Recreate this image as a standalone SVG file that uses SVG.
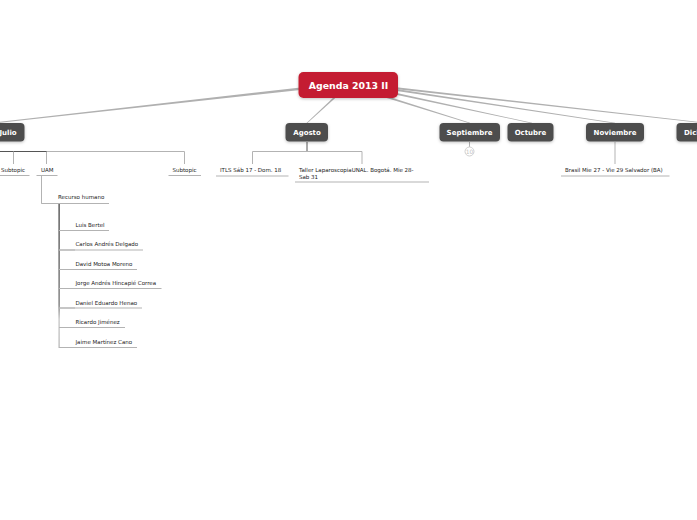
<svg xmlns="http://www.w3.org/2000/svg" width="697" height="520" viewBox="0 0 697 520">
<defs>
<filter id="sh" x="-20%" y="-30%" width="140%" height="170%"><feDropShadow dx="0" dy="1" stdDeviation="1.500" flood-color="#000" flood-opacity="0.250"/></filter>
<linearGradient id="trunk" x1="0" y1="0" x2="0" y2="1"><stop offset="0" stop-color="#333"/><stop offset="0.7" stop-color="#666"/><stop offset="0.8" stop-color="#c0c0c0"/><stop offset="1" stop-color="#b3b3b3"/></linearGradient>
</defs>
<style>
text{font-family:"DejaVu Sans","Liberation Sans",sans-serif}
.m{font-size:9.400px;font-weight:700;fill:#fff;text-anchor:middle}
.c{font-size:7px;font-weight:700;fill:#fff;text-anchor:middle}
.s{font-size:5.500px;fill:#222}
.box{fill:#4d4d4d;filter:url(#sh)}
.l{fill:none;stroke:#b3b3b3;stroke-width:1}
.u{fill:none;stroke:#b3b3b3;stroke-width:1}
.d{fill:none;stroke:#555;stroke-width:1}
.b{fill:#b0b0b0;stroke:none}
</style>
<rect width="697" height="520" fill="#fff"/>
<g id="connectors">
<polygon class="b" points="305,87 0,121.800 0,122.800 305,89.500"/>
<polygon class="b" points="335,96 337.500,96 307.500,123 306.500,123"/>
<polygon class="b" points="385,95.500 385,97.500 470,123.400 470,122.800"/>
<polygon class="b" points="390,91.500 390,93.500 532,123.400 532,122.800"/>
<polygon class="b" points="390,88 390,90 615,123.400 615,122.800"/>
<polygon class="b" points="390,86.500 390,88.500 697,122.500 697,121.800"/>
<path class="d" d="M0 151.500H47"/>
<path class="l" d="M47 151.500H184.500V164M13.500 151.500V164M46.500 151.500V164"/>
<path class="l" d="M41.500 176V203.500H58"/>
<rect x="58.500" y="204" width="1.200" height="144" fill="url(#trunk)"/>
<path class="l" d="M59 230.500H75M59 250H75M59 269.500H75M59 288.500H75M59 308H75M59 327.500H75M59 347.500H75"/>
<path class="d" stroke-width="1.200" d="M307 142V151.500"/>
<path class="l" d="M252.500 164V151.500H362V164"/>
<path class="l" d="M469.500 142V147"/>
<path class="l" d="M615 142V164"/>
</g>
<g id="root"><rect x="298.500" y="72" width="99.500" height="26" rx="5" fill="#c41e30" filter="url(#sh)"/><text class="m" x="348.500" y="89">Agenda 2013 II</text></g>
<g id="julio"><rect x="-20" y="123" width="44.500" height="18.500" rx="4" class="box"/><text class="c" x="8" y="135">Julio</text></g>
<g id="agosto"><rect x="285.500" y="123" width="42.500" height="18.500" rx="4" class="box"/><text class="c" x="307" y="135">Agosto</text></g>
<g id="septiembre"><rect x="439.500" y="123" width="60.500" height="18.500" rx="4" class="box"/><text class="c" x="469.500" y="135">Septiembre</text><circle cx="469.500" cy="151.500" r="4.500" fill="#fff" stroke="#d0d0d0"/><text x="469.500" y="154" style="font-size:6px;fill:#c4c4c4;text-anchor:middle">10</text></g>
<g id="octubre"><rect x="507.500" y="123" width="46" height="18.500" rx="4" class="box"/><text class="c" x="530.500" y="135">Octubre</text></g>
<g id="noviembre"><rect x="586" y="123" width="58" height="18.500" rx="4" class="box"/><text class="c" x="615" y="135">Noviembre</text></g>
<g id="diciembre"><rect x="676.500" y="123" width="50" height="18.500" rx="4" class="box"/><text class="c" style="text-anchor:start" x="684" y="135">Diciembre</text></g>
<g id="subtopic1"><text class="s" x="1" y="172">Subtopic</text><path class="u" d="M0 175.500H29.500"/></g>
<g id="uam"><text class="s" x="41" y="172">UAM</text><path class="u" d="M36.500 175.500H57.500"/></g>
<g id="subtopic2"><text class="s" x="172.500" y="172">Subtopic</text><path class="u" d="M168.500 175.500H201"/></g>
<g id="recurso"><text class="s" x="58" y="199">Recurso humano</text><path class="u" d="M41.500 203.500H109"/></g>
<g id="p1"><text class="s" x="75.500" y="227">Luis Bertel</text><path class="u" d="M59 230.500H109"/></g>
<g id="p2"><text class="s" x="75.500" y="246">Carlos Andrés Delgado</text><path class="u" d="M59 250H143"/></g>
<g id="p3"><text class="s" x="75.500" y="266">David Motoa Moreno</text><path class="u" d="M59 269.500H137"/></g>
<g id="p4"><text class="s" x="75.500" y="285">Jorge Andrés Hincapié Correa</text><path class="u" d="M59 288.500H161.500"/></g>
<g id="p5"><text class="s" x="75.500" y="305">Daniel Eduardo Henao</text><path class="u" d="M59 308H142"/></g>
<g id="p6"><text class="s" x="75.500" y="324">Ricardo Jiménez</text><path class="u" d="M59 327.500H125"/></g>
<g id="p7"><text class="s" x="75.500" y="344">Jaime Martínez Cano</text><path class="u" d="M59 347.500H137"/></g>
<g id="itls"><text class="s" x="220" y="172">ITLS Sáb 17 - Dom. 18</text><path class="u" d="M216 176H288.500"/></g>
<g id="taller"><text class="s" x="299" y="172">Taller LaparoscopiaUNAL. Bogotá. Mie 28-</text><text class="s" x="299" y="179">Sab 31</text><path class="u" d="M295 182H429"/></g>
<g id="brasil"><text class="s" x="565" y="172">Brasil Mie 27 - Vie 29 Salvador (BA)</text><path class="u" d="M561 176H669.500"/></g>
</svg>
